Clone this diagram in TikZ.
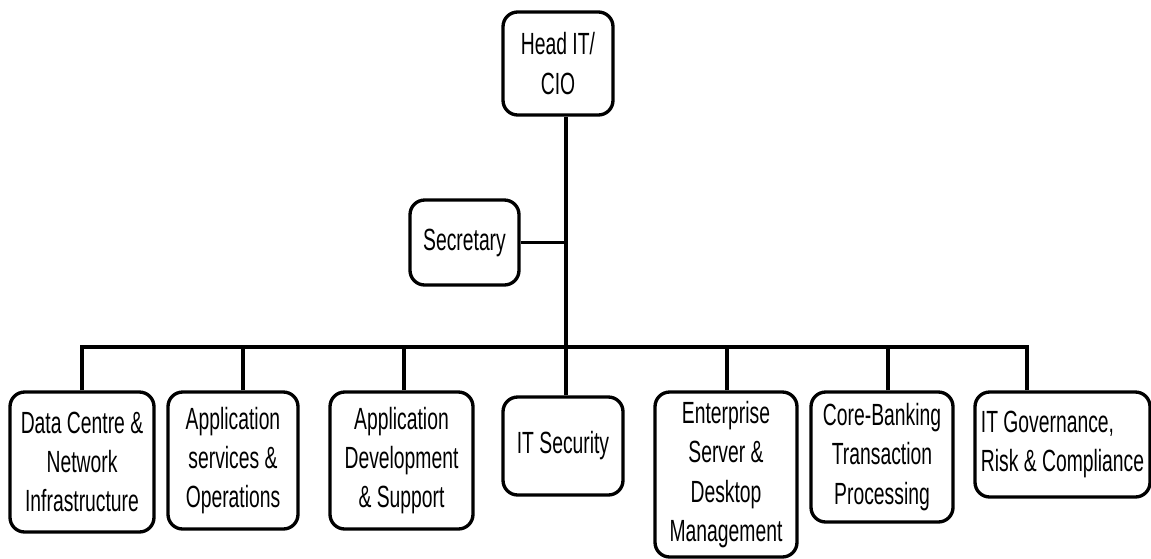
\documentclass[tikz,border=0pt]{standalone}
\usepackage{fontspec}
\setmainfont[FakeStretch=0.63]{Liberation Sans}
\begin{document}
\begin{tikzpicture}[x=0.75pt,y=-0.75pt,
  box/.style={draw,line width=2.5pt,rounded corners=11pt,inner sep=0pt,align=center,
    font=\fontsize{23}{29.5}\selectfont},
  conn/.style={line width=2.4pt}]
\useasboundingbox (0,0) rectangle (1151,558);
\begin{scope}
\clip (0,0) rectangle (1151,558);
\node[box,minimum width=82.5pt,minimum height=77.25pt] (head) at (558,63.5) {Head IT/\\CIO};
\node[box,minimum width=81.75pt,minimum height=63.75pt] (sec) at (464.5,242.5) {Secretary};
\node[box,minimum width=108pt,minimum height=105pt] (b1) at (82,462) {Data Centre \&\\Network\\Infrastructure};
\node[box,minimum width=97.5pt,minimum height=102.75pt] (b2) at (233,460.5) {Application\\services \&\\Operations};
\node[box,minimum width=107.25pt,minimum height=102.75pt] (b3) at (401.5,460.5) {Application\\Development\\\& Support};
\node[box,minimum width=90pt,minimum height=73.5pt] (b4) at (563,446) {IT Security};
\node[box,minimum width=106.5pt,minimum height=123.75pt] (b5) at (726,474.5) {Enterprise\\Server \&\\Desktop\\Management};
\node[box,minimum width=106.5pt,minimum height=97.5pt] (b6) at (882,457) {Core-Banking\\Transaction\\Processing};
\node[box,align=left,minimum width=131.25pt,minimum height=78.75pt] (b7) at (1062.5,444.5) {IT Governance,\\Risk \& Compliance};

\coordinate (busL) at (82,347);
\coordinate (busR) at (1027,347);
\coordinate (top) at ([xshift=6pt]head.south);

\draw[conn] (top) -- (top |- b4.north);
\draw[conn] (sec.east) -- (sec.east -| top);
\draw[conn,line width=3pt,line cap=rect] (busL) -- (busR);
\draw[conn] (b1.north) -- (b1.north |- busL);
\draw[conn] ([xshift=7.5pt]b2.north) -- ([xshift=7.5pt]b2.north |- busL);
\draw[conn] ([xshift=1.9pt]b3.north) -- ([xshift=1.9pt]b3.north |- busL);
\draw[conn] ([xshift=0.75pt]b5.north) -- ([xshift=0.75pt]b5.north |- busL);
\draw[conn] ([xshift=4.5pt]b6.north) -- ([xshift=4.5pt]b6.north |- busL);
\draw[conn] ([xshift=-26.6pt]b7.north) -- ([xshift=-26.6pt]b7.north |- busR);
\end{scope}
\end{tikzpicture}
\end{document}
